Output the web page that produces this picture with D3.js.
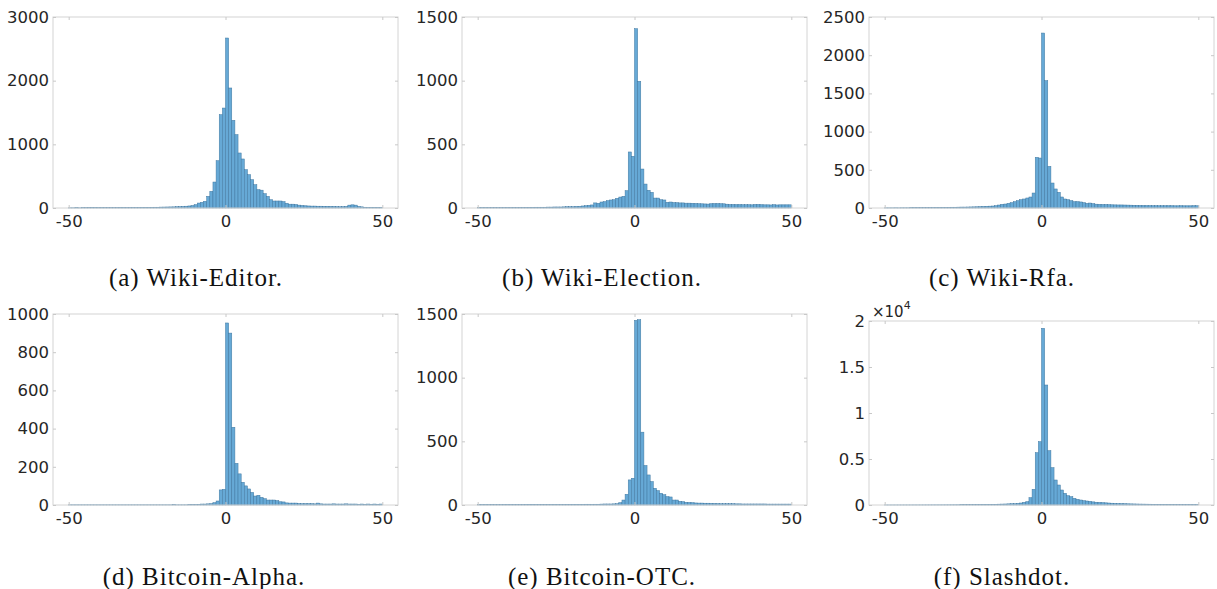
<!DOCTYPE html>
<html>
<head>
<meta charset="utf-8">
<script src="https://cdn.jsdelivr.net/npm/d3@7"></script>
<style>
  body { margin: 0; background: #fff; }
  svg { display: block; }
  .tick text { font-family: "DejaVu Sans", sans-serif; font-size: 16.5px; fill: #262626; }
  .tick line { stroke: #c8c8c8; }
  .caption { font-family: "Liberation Serif", serif; font-size: 25px; letter-spacing: 1px; fill: #111; }
</style>
</head>
<body>
<svg id="chart" width="1217" height="589"></svg>
<script>
// bins are [k, k+1) for k = -50 .. 49
var binStarts = d3.range(-50, 50);

var wikiEditor = [
  3, 3, 4, 3, 5, 4, 8, 10, 8, 4,
  4, 5, 5, 6, 5, 6, 8, 7, 6, 7,
  8, 7, 8, 9, 10, 10, 11, 12, 12, 14,
  15, 16, 17, 18, 20, 22, 25, 28, 32, 38,
  52, 78, 89, 105, 183, 262, 408, 743, 1466, 1570,
  2670, 1885, 1377, 1152, 864, 770, 602, 524, 445, 366,
  288, 280, 225, 183, 130, 110, 110, 110, 100, 75,
  60, 60, 55, 45, 40, 35, 32, 30, 30, 28,
  28, 27, 26, 25, 25, 22, 20, 22, 25, 45,
  50, 45, 25, 18, 12, 10, 10, 9, 9, 8
];
var wikiElection = [
  2, 2, 2, 2, 2, 3, 2, 3, 3, 3,
  3, 4, 3, 4, 4, 5, 5, 5, 6, 6,
  6, 6, 7, 7, 8, 8, 8, 9, 10, 10,
  10, 12, 13, 16, 18, 21, 24, 40, 37, 47,
  50, 58, 63, 65, 76, 86, 92, 136, 440, 406,
  1408, 995, 306, 188, 139, 123, 78, 78, 65, 63,
  45, 47, 43, 42, 40, 40, 38, 38, 37, 36,
  34, 33, 32, 31, 34, 35, 35, 34, 33, 30,
  28, 28, 27, 27, 26, 26, 26, 25, 28, 28,
  26, 25, 25, 24, 26, 24, 25, 25, 25, 25
];
var wikiRfa = [
  2, 2, 2, 3, 2, 3, 3, 3, 4, 4,
  4, 5, 5, 5, 6, 6, 7, 7, 8, 8,
  9, 10, 10, 11, 12, 12, 13, 14, 15, 16,
  18, 20, 22, 24, 26, 30, 39, 48, 52, 61,
  70, 83, 96, 109, 118, 131, 144, 196, 663, 654,
  2290, 1667, 545, 327, 249, 205, 144, 118, 109, 96,
  83, 83, 79, 70, 61, 65, 57, 50, 48, 46,
  46, 44, 42, 41, 40, 40, 39, 38, 37, 36,
  35, 34, 33, 32, 32, 31, 31, 30, 30, 30,
  30, 30, 29, 29, 30, 29, 29, 29, 30, 30
];
var bitcoinAlpha = [
  1, 1, 1, 1, 1, 1, 1, 1, 1, 1,
  1, 1, 1, 1, 1, 1, 1, 1, 1, 1,
  1, 1, 1, 1, 1, 1, 1, 1, 1, 1,
  1, 1, 1, 2, 1, 1, 1, 1, 2, 2,
  2, 3, 5, 5, 6, 7, 12, 21, 79, 82,
  953, 900, 407, 218, 163, 119, 100, 84, 66, 47,
  51, 40, 33, 26, 26, 26, 23, 17, 16, 11,
  10, 10, 10, 8, 7, 7, 7, 7, 6, 10,
  6, 5, 5, 5, 6, 5, 5, 5, 6, 5,
  5, 5, 4, 5, 4, 5, 4, 5, 4, 5
];
var bitcoinOTC = [
  2, 2, 2, 2, 3, 2, 2, 2, 3, 3,
  3, 3, 3, 3, 3, 4, 5, 5, 4, 4,
  4, 4, 4, 4, 4, 4, 4, 4, 5, 5,
  5, 5, 5, 5, 6, 6, 5, 6, 6, 7,
  8, 8, 8, 9, 10, 18, 39, 84, 197, 210,
  1450, 1455, 572, 310, 236, 184, 131, 113, 92, 81,
  66, 63, 39, 39, 29, 26, 21, 20, 18, 16,
  15, 15, 14, 14, 13, 12, 11, 10, 10, 10,
  10, 10, 9, 9, 8, 8, 8, 8, 8, 8,
  8, 8, 7, 7, 7, 7, 7, 7, 7, 7
];
var slashdot = [
  5, 5, 6, 6, 7, 7, 8, 8, 9, 10,
  10, 11, 12, 13, 14, 15, 16, 17, 18, 19,
  20, 22, 24, 26, 28, 30, 33, 36, 40, 45,
  50, 55, 60, 66, 72, 80, 90, 100, 110, 125,
  140, 145, 180, 217, 290, 362, 797, 1703, 5688, 6884,
  19203, 13043, 5906, 4058, 2717, 2174, 1630, 1268, 1014, 906,
  725, 616, 543, 471, 435, 400, 340, 300, 280, 255,
  235, 215, 195, 180, 165, 150, 140, 130, 122, 115,
  108, 100, 95, 90, 85, 80, 76, 72, 68, 64,
  60, 57, 54, 51, 48, 46, 44, 42, 40, 38
];

var xTicks = [-50, 0, 50];
var captions = ['(a) Wiki-Editor.', '(b) Wiki-Election.', '(c) Wiki-Rfa.',
                '(d) Bitcoin-Alpha.', '(e) Bitcoin-OTC.', '(f) Slashdot.'];
var yTicksA = [0, 1000, 2000, 3000];
var yTicksB = [0, 500, 1000, 1500];
var yTicksC = [0, 500, 1000, 1500, 2000, 2500];
var yTicksD = [0, 200, 400, 600, 800, 1000];
var yTicksE = [0, 500, 1000, 1500];
var yTicksF = [0, 5000, 10000, 15000, 20000];

var svg = d3.select('#chart');

var panels = [
  { values: wikiEditor,   ticks: yTicksA, left: 53,  top: 17,  bottom: 208, capX: 196,  capY: 286 },
  { values: wikiElection, ticks: yTicksB, left: 462, top: 17,  bottom: 208, capX: 602,  capY: 286 },
  { values: wikiRfa,      ticks: yTicksC, left: 869, top: 17,  bottom: 208, capX: 1002, capY: 286 },
  { values: bitcoinAlpha, ticks: yTicksD, left: 53,  top: 314, bottom: 505, capX: 204,  capY: 585 },
  { values: bitcoinOTC,   ticks: yTicksE, left: 462, top: 314, bottom: 505, capX: 602,  capY: 585 },
  { values: slashdot,     ticks: yTicksF, left: 869, top: 321, bottom: 505, capX: 1002, capY: 585, sci: true }
];
var boxW = 345;
var plain = function(d) { return String(d); };

panels.forEach(function(p, i) {
  var g = svg.append('g').attr('transform', 'translate(' + p.left + ',0)');
  var x = d3.scaleLinear().domain([-55, 55]).range([0, boxW]);
  var y = d3.scaleLinear().domain([0, d3.max(p.ticks)]).range([p.bottom, p.top]);
  var fmt = p.sci ? function(d) { return String(d / 10000); } : plain;

  g.selectAll('rect.bar').data(p.values)
    .enter().append('rect')
    .attr('class', 'bar')
    .attr('x', function(d, j) { return x(binStarts[j]); })
    .attr('width', function(d, j) { return x(binStarts[j] + 1) - x(binStarts[j]); })
    .attr('y', function(d) { return y(d); })
    .attr('height', function(d) { return y(0) - y(d); })
    .attr('fill', '#66a9d6')
    .attr('stroke', '#3f77a0')
    .attr('stroke-width', 0.5);

  // box
  g.append('rect')
    .attr('x', 0).attr('y', p.top)
    .attr('width', boxW).attr('height', p.bottom - p.top)
    .attr('fill', 'none').attr('stroke', '#d4d4d4').attr('stroke-width', 1);

  g.append('g').attr('transform', 'translate(0,' + p.bottom + ')')
    .call(d3.axisBottom(x).tickValues(xTicks).tickSize(-3).tickPadding(7).tickFormat(plain));
  g.append('g').attr('transform', 'translate(0,' + p.top + ')')
    .call(d3.axisTop(x).tickValues(xTicks).tickSize(-3).tickFormat(''));
  g.append('g')
    .call(d3.axisLeft(y).tickValues(p.ticks).tickSize(-3).tickPadding(4).tickFormat(fmt));
  g.append('g').attr('transform', 'translate(' + boxW + ',0)')
    .call(d3.axisRight(y).tickValues(p.ticks).tickSize(-3).tickFormat(''));
  g.selectAll('.domain').remove();

  if (p.sci) {
    var t = g.append('text').attr('x', 3).attr('y', p.top - 4)
      .attr('font-family', 'DejaVu Sans').attr('font-size', 15).attr('fill', '#262626');
    t.append('tspan').text('\u00d710');
    t.append('tspan').attr('dy', -8).attr('font-size', 11).text('4');
  }

  svg.append('text').attr('class', 'caption')
    .attr('x', p.capX).attr('y', p.capY)
    .attr('text-anchor', 'middle')
    .text(captions[i]);
});
</script>
</body>
</html>
